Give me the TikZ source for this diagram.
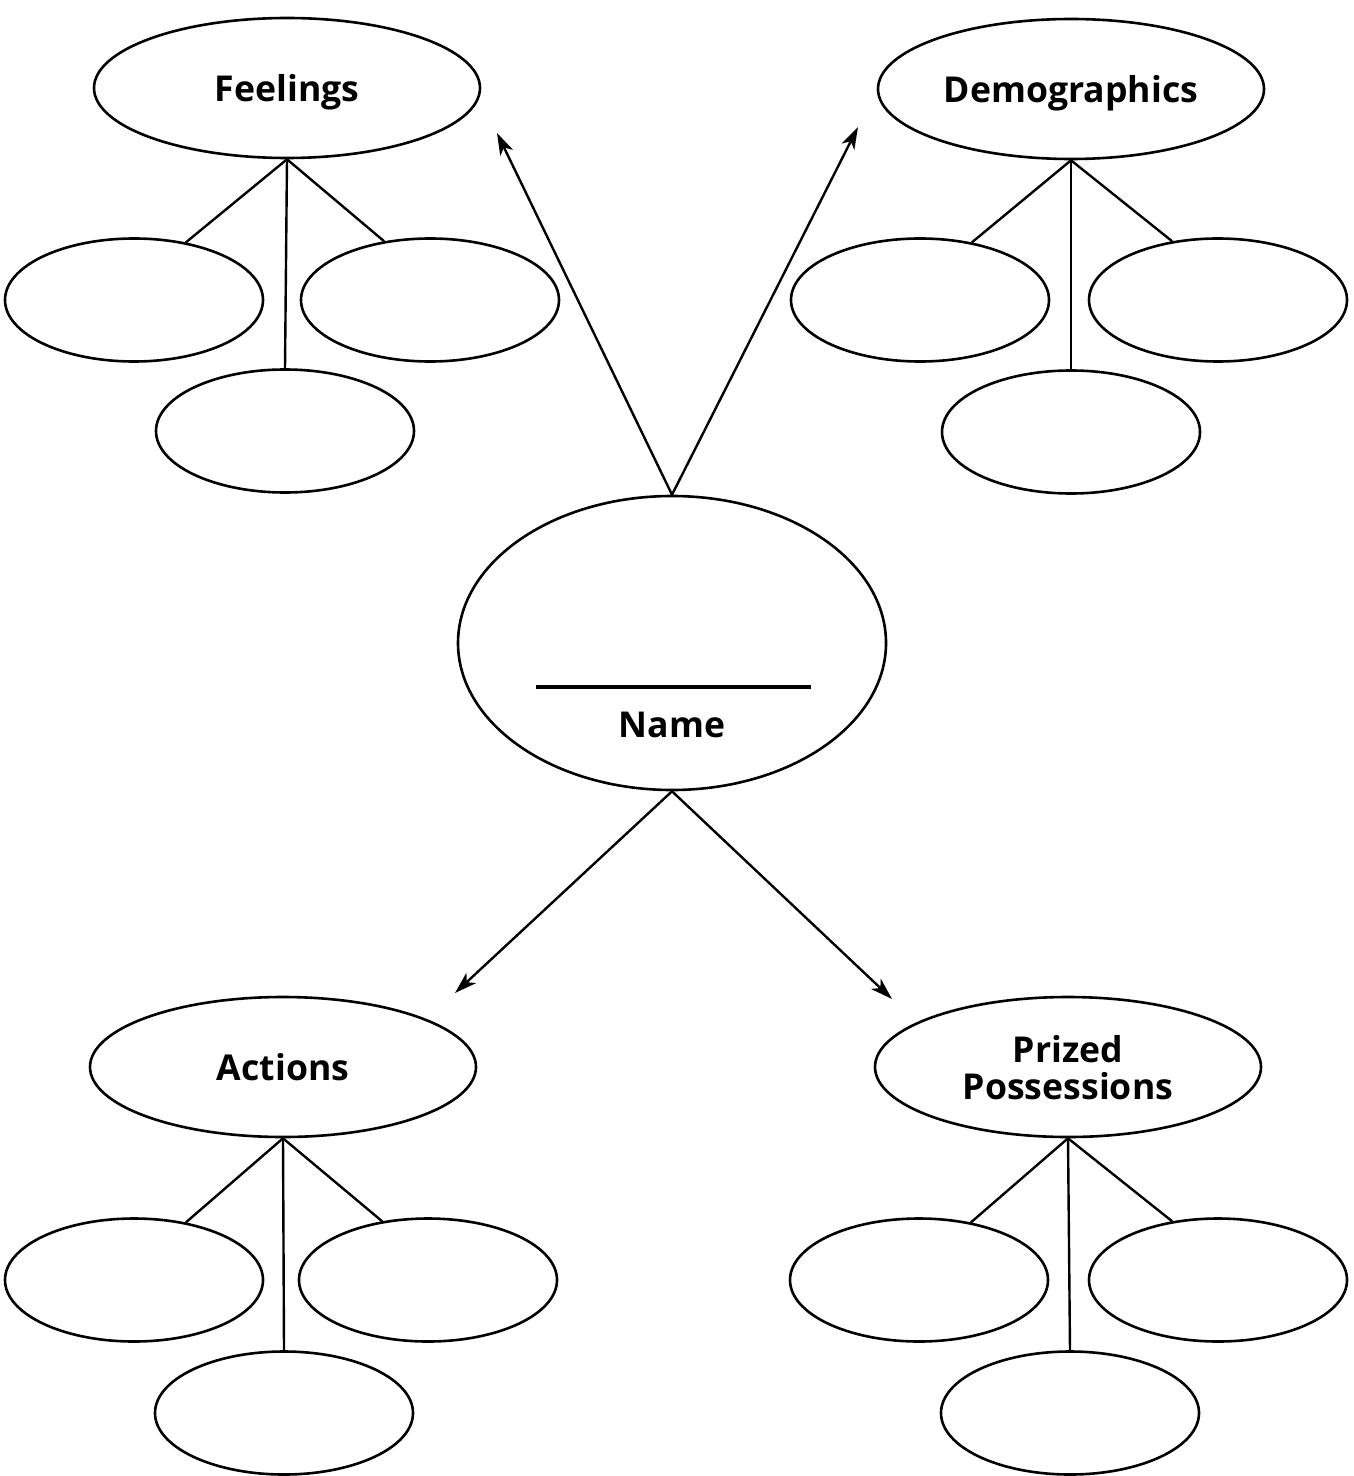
\documentclass[tikz,border=0pt]{standalone}
\usepackage{fontspec}
\setmainfont{Open Sans}
\usetikzlibrary{arrows.meta,shapes.geometric}
\begin{document}
\begin{tikzpicture}[x=0.5pt,y=-0.5pt,line width=1.3pt,
  parent/.style={draw,ellipse,minimum width=193pt,minimum height=70pt,inner sep=0pt,
    font=\fontsize{17.8}{18.5}\selectfont\bfseries,text depth=0pt,align=center},
  leaf/.style={draw,ellipse,minimum width=129pt,minimum height=61.5pt,inner sep=0pt},
  center/.style={draw,ellipse,minimum width=214pt,minimum height=147pt,inner sep=0pt},
  lbl/.style={font=\fontsize{17.8}{18.5}\selectfont\bfseries,inner sep=0pt},
  branch/.style={line width=1.2pt},
  arrow/.style={line width=1.2pt,-{Stealth[length=11pt,width=7pt,inset=3pt]}}]
\useasboundingbox (0,0) rectangle (1353,1476);

% central node
\node[center] (name) at (672,643) {};
\node[lbl,anchor=base] (namelabel) at (672,737) {Name};
\draw[line width=2pt] (536,687) -- (811,687);

% Feelings group
\node[parent] (feel) at (287,88) {Feelings};
\node[leaf] (f1) at (134,300) {};
\node[leaf] (f2) at (430,300) {};
\node[leaf] (f3) at (285,431) {};
\draw[branch] (feel.south) -- (f1.48);
\draw[branch] (feel.south) -- (f2.128);
\draw[branch] (feel.south) -- (f3.north);

% Demographics group
\node[parent] (demo) at (1071,89) {Demographics};
\node[leaf] (d1) at (920,300) {};
\node[leaf] (d2) at (1218,300) {};
\node[leaf] (d3) at (1071,432) {};
\draw[branch] (demo.south) -- (d1.48);
\draw[branch] (demo.south) -- (d2.128);
\draw[branch] (demo.south) -- (d3.north);

% Actions group
\node[parent] (act) at (283,1067) {Actions};
\node[leaf] (a1) at (134,1280) {};
\node[leaf] (a2) at (428,1280) {};
\node[leaf] (a3) at (284,1413) {};
\draw[branch] (act.south) -- (a1.48);
\draw[branch] (act.south) -- (a2.128);
\draw[branch] (act.south) -- (a3.north);

% Prized Possessions group
\node[parent] (prize) at (1068,1067) {Prized\\Possessions};
\node[leaf] (p1) at (919,1280) {};
\node[leaf] (p2) at (1218,1280) {};
\node[leaf] (p3) at (1070,1413) {};
\draw[branch] (prize.south) -- (p1.48);
\draw[branch] (prize.south) -- (p2.128);
\draw[branch] (prize.south) -- (p3.north);

% arrows from the centre
\coordinate (tipF) at (497,133);
\coordinate (tipD) at (858,127);
\coordinate (tipA) at (455,993);
\coordinate (tipP) at (892,999);
\draw[arrow] (name.north) -- (tipF);
\draw[arrow] (name.north) -- (tipD);
\draw[arrow] (name.south) -- (tipA);
\draw[arrow] (name.south) -- (tipP);
\end{tikzpicture}
\end{document}
